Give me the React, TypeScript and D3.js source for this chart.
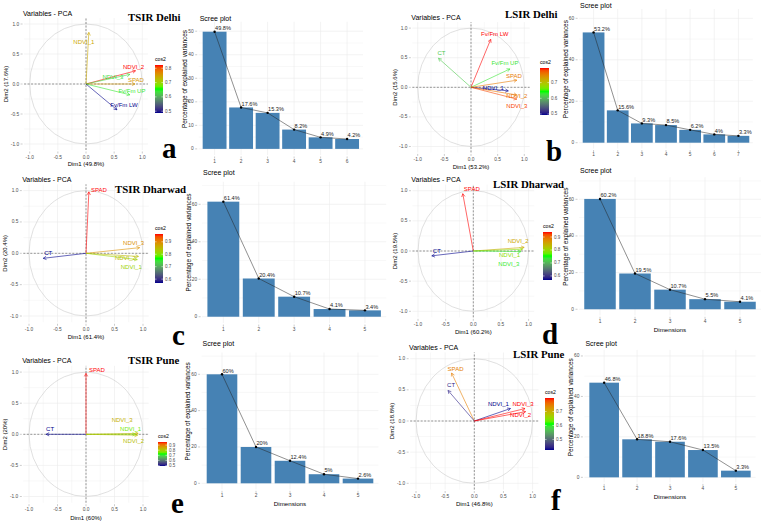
import React, { useRef, useEffect } from "react";
import * as d3 from "d3";

// explained variance (%) by dimension
const tsirDelhiEig = [49.8, 17.6, 15.3, 8.2, 4.9, 4.2];
const lsirDelhiEig = [53.2, 15.6, 9.3, 8.5, 6.2, 4, 3.3];
const tsirDharwadEig = [61.4, 20.4, 10.7, 4.1, 3.4];
const lsirDharwadEig = [60.2, 19.5, 10.7, 5.5, 4.1];
const tsirPuneEig = [60, 20, 12.4, 5, 2.6];
const lsirPuneEig = [46.8, 18.8, 17.6, 13.5, 3.3];

// variable coordinates on Dim1 / Dim2
const tsirDelhiVars = ["NDVI_1", "NDVI_2", "NDVI_3", "SPAD", "Fv/Fm UP", "Fv/Fm LW"];
const tsirDelhiDim1 = [0.05, 0.88, 0.78, 0.87, 0.78, 0.55];
const tsirDelhiDim2 = [0.86, 0.22, 0.16, 0.0, -0.18, -0.43];

const lsirDelhiVars = ["Fv/Fm LW", "CT", "Fv/Fm UP", "SPAD", "NDVI_1", "NDVI_2", "NDVI_3"];
const lsirDelhiDim1 = [0.37, -0.61, 0.73, 0.86, 0.7, 0.86, 0.86];
const lsirDelhiDim2 = [0.81, 0.49, 0.31, 0.12, -0.06, -0.13, -0.2];

const tsirDharwadVars = ["SPAD", "CT", "NDVI_3", "NDVI_2", "NDVI_1"];
const tsirDharwadDim1 = [0.05, -0.75, 0.94, 0.92, 0.9];
const tsirDharwadDim2 = [0.98, -0.08, 0.09, -0.05, -0.1];

const lsirDharwadVars = ["SPAD", "CT", "NDVI_2", "NDVI_1", "NDVI_3"];
const lsirDharwadDim1 = [-0.19, -0.75, 0.92, 0.89, 0.86];
const lsirDharwadDim2 = [0.95, -0.08, 0.06, 0.03, -0.01];

const tsirPuneVars = ["SPAD", "CT", "NDVI_3", "NDVI_1", "NDVI_2"];
const tsirPuneDim1 = [0.0, -0.7, 0.915, 0.87, 0.905];
const tsirPuneDim2 = [0.98, 0.0, 0.015, 0.0, -0.015];

const lsirPuneVars = ["SPAD", "CT", "NDVI_1", "NDVI_3", "NDVI_2"];
const lsirPuneDim1 = [-0.39, -0.45, 0.62, 0.87, 0.88];
const lsirPuneDim2 = [0.77, 0.49, 0.2, 0.2, 0.15];

const FONT = "'Liberation Sans', Arial, Helvetica, sans-serif";
const SERIF = "'Liberation Serif', 'Times New Roman', serif";
const AXIS_TEXT = "#4d4d4d";
const GRID = "#ebebeb";

// label offsets (px) from arrow tip to label centre
const labelNudge: Record<string, [number, number]> = {
  "a:NDVI_1": [-5, 10],
  "a:NDVI_2": [-2, -4],
  "a:NDVI_3": [-17, 3],
  "a:SPAD": [1, -4],
  "a:Fv/Fm UP": [2, -4],
  "a:Fv/Fm LW": [7, -5],
  "b:Fv/Fm LW": [4, -5],
  "b:CT": [3, -5],
  "b:Fv/Fm UP": [-5, -6],
  "b:SPAD": [-3, -4],
  "b:NDVI_1": [-15, -3],
  "b:NDVI_2": [0, 1],
  "b:NDVI_3": [0, 7],
  "c:SPAD": [10, -2],
  "c:CT": [5, -5],
  "c:NDVI_3": [-6, -5],
  "c:NDVI_2": [-13, 2],
  "c:NDVI_1": [-6, 7],
  "d:SPAD": [9, -5],
  "d:CT": [5, -5],
  "d:NDVI_2": [-6, -6],
  "d:NDVI_1": [-13, 6],
  "d:NDVI_3": [-12, 12],
  "e:SPAD": [11, -3],
  "e:CT": [4, -5],
  "e:NDVI_3": [-16, -13],
  "e:NDVI_1": [-5, -5],
  "e:NDVI_2": [-4, 6],
  "f:SPAD": [4, -4],
  "f:CT": [3, -5],
  "f:NDVI_1": [-12, -5],
  "f:NDVI_3": [-2, -5],
  "f:NDVI_2": [-5, 3],
};

const panels = [
  {
    key: "a", site: "TSIR Delhi", vars: tsirDelhiVars, dim1: tsirDelhiDim1, dim2: tsirDelhiDim2, eig: tsirDelhiEig,
    pca: { cx: 86, cy: 84, rx: 56.3, ry: 60 },
    legend: { x: 155, y: 65, w: 8, h: 48 },
    siteAt: [128, 21], letterAt: [162, 158],
    scree: { left: 198.7, right: 363, bottom: 155, top: 21.8, lo: -2.6, hi: 54, step: 10, titleY: 18, dimsTitle: false },
  },
  {
    key: "b", site: "LSIR Delhi", vars: lsirDelhiVars, dim1: lsirDelhiDim1, dim2: lsirDelhiDim2, eig: lsirDelhiEig,
    pca: { cx: 471, cy: 87.3, rx: 53.3, ry: 59.2 },
    legend: { x: 540, y: 68, w: 9, h: 47 },
    siteAt: [505, 18], letterAt: [546, 161],
    scree: { left: 579.1, right: 752.9, bottom: 148.5, top: 9, lo: -2.8, hi: 64.5, step: 20, titleY: 5, dimsTitle: false },
  },
  {
    key: "c", site: "TSIR Dharwad", vars: tsirDharwadVars, dim1: tsirDharwadDim1, dim2: tsirDharwadDim2, eig: tsirDharwadEig,
    pca: { cx: 86, cy: 253.3, rx: 57, ry: 62.7 },
    legend: { x: 155, y: 234, w: 8, h: 49 },
    siteAt: [115, 193], letterAt: [172, 345],
    scree: { left: 202.1, right: 386.2, bottom: 323.1, top: 181.8, lo: -3.4, hi: 72, step: 20, titleY: 172, dimsTitle: false },
  },
  {
    key: "d", site: "LSIR Dharwad", vars: lsirDharwadVars, dim1: lsirDharwadDim1, dim2: lsirDharwadDim2, eig: lsirDharwadEig,
    pca: { cx: 473.3, cy: 251, rx: 55.3, ry: 60.3 },
    legend: { x: 543, y: 232, w: 9, h: 48 },
    siteAt: [493, 188], letterAt: [542, 344],
    scree: { left: 579, right: 761, bottom: 315.3, top: 177.3, lo: -3.3, hi: 72, step: 20, titleY: 170, dimsTitle: true },
  },
  {
    key: "e", site: "TSIR Pune", vars: tsirPuneVars, dim1: tsirPuneDim1, dim2: tsirPuneDim2, eig: tsirPuneEig,
    pca: { cx: 86, cy: 434.3, rx: 57, ry: 62.2 },
    legend: { x: 158, y: 442, w: 9, h: 24 },
    siteAt: [128, 364], letterAt: [171, 513],
    scree: { left: 201.6, right: 378.4, bottom: 489.3, top: 352.5, lo: -3.3, hi: 72, step: 20, titleY: 343, dimsTitle: true },
  },
  {
    key: "f", site: "LSIR Pune", vars: lsirPuneVars, dim1: lsirPuneDim1, dim2: lsirPuneDim2, eig: lsirPuneEig,
    pca: { cx: 474.3, cy: 421, rx: 58.3, ry: 62.3 },
    legend: { x: 545, y: 398, w: 9, h: 52 },
    siteAt: [513, 358], letterAt: [551, 510],
    scree: { left: 584.4, right: 755.6, bottom: 482.4, top: 349.9, lo: -2.5, hi: 63, step: 20, titleY: 343, dimsTitle: true },
  },
];

type Panel = (typeof panels)[number];

function cos2Scale(lo: number, hi: number) {
  return d3
    .scaleLinear<string>()
    .domain([lo, (lo + hi) / 2, hi])
    .range(["#00008B", "#00FF00", "#FF0000"])
    .interpolate(d3.interpolateLab);
}

function drawPca(svg: any, p: Panel) {
  const { cx, cy, rx, ry } = p.pca;
  const x = d3.scaleLinear().domain([-1, 1]).range([cx - rx, cx + rx]);
  const y = d3.scaleLinear().domain([-1, 1]).range([cy + ry, cy - ry]);
  const lim = 1.1;
  const g = svg.append("g");

  // background grid
  const minor = [-0.75, -0.25, 0.25, 0.75];
  const major = [-1, -0.5, 0, 0.5, 1];
  [...minor, ...major].forEach((v) => {
    const w = minor.includes(v) ? 0.35 : 0.6;
    g.append("line").attr("x1", x(v)).attr("x2", x(v)).attr("y1", y(-lim)).attr("y2", y(lim))
      .attr("stroke", GRID).attr("stroke-width", w);
    g.append("line").attr("x1", x(-lim)).attr("x2", x(lim)).attr("y1", y(v)).attr("y2", y(v))
      .attr("stroke", GRID).attr("stroke-width", w);
  });

  // correlation circle
  g.append("ellipse").attr("cx", x(0)).attr("cy", y(0))
    .attr("rx", x(1) - x(0)).attr("ry", y(0) - y(1))
    .attr("fill", "none").attr("stroke", "#d2d2d2").attr("stroke-width", 0.7);

  g.append("line").attr("x1", x(-lim)).attr("x2", x(lim)).attr("y1", y(0)).attr("y2", y(0))
    .attr("stroke", "#333").attr("stroke-width", 0.5).attr("stroke-dasharray", "2,1.5");
  g.append("line").attr("x1", x(0)).attr("x2", x(0)).attr("y1", y(-lim)).attr("y2", y(lim))
    .attr("stroke", "#333").attr("stroke-width", 0.5).attr("stroke-dasharray", "2,1.5");

  // axes text
  major.forEach((v) => {
    const lab = v.toFixed(1);
    g.append("text").attr("x", x(-lim) - 5).attr("y", y(v)).attr("text-anchor", "end")
      .attr("dominant-baseline", "central").attr("font-size", 4.8).attr("fill", AXIS_TEXT)
      .attr("font-family", FONT).text(lab);
    g.append("line").attr("x1", x(-lim) - 3.5).attr("x2", x(-lim) - 1.5).attr("y1", y(v)).attr("y2", y(v))
      .attr("stroke", "#999").attr("stroke-width", 0.5);
    g.append("text").attr("x", x(v)).attr("y", y(-lim) + 7).attr("text-anchor", "middle")
      .attr("dominant-baseline", "central").attr("font-size", 4.8).attr("fill", AXIS_TEXT)
      .attr("font-family", FONT).text(lab);
    g.append("line").attr("x1", x(v)).attr("x2", x(v)).attr("y1", y(-lim) + 1.5).attr("y2", y(-lim) + 3.5)
      .attr("stroke", "#999").attr("stroke-width", 0.5);
  });

  g.append("text").attr("x", cx).attr("y", cy + 1.34 * ry).attr("text-anchor", "middle")
    .attr("dominant-baseline", "central").attr("font-size", 6).attr("font-family", FONT)
    .text(`Dim1 (${p.eig[0]}%)`);
  g.append("text").attr("transform", `translate(${cx - 1.42 * rx},${cy}) rotate(-90)`)
    .attr("text-anchor", "middle").attr("dominant-baseline", "central").attr("font-size", 6)
    .attr("font-family", FONT).text(`Dim2 (${p.eig[1]}%)`);
  g.append("text").attr("x", cx - 1.12 * rx).attr("y", cy - 1.18 * ry)
    .attr("dominant-baseline", "central").attr("font-size", 7).attr("font-family", FONT)
    .text("Variables - PCA");

  // variable arrows coloured by cos2
  const cos2 = p.dim1.map((d, i) => d * d + p.dim2[i] * p.dim2[i]);
  const lo = d3.min(cos2) as number;
  const hi = d3.max(cos2) as number;
  const color = cos2Scale(lo, hi);

  p.vars.forEach((name, i) => {
    const tx = x(p.dim1[i]);
    const ty = y(p.dim2[i]);
    const c = color(cos2[i]);
    const ang = Math.atan2(ty - y(0), tx - x(0));
    const head = 3.5;
    g.append("line").attr("x1", x(0)).attr("y1", y(0)).attr("x2", tx).attr("y2", ty)
      .attr("stroke", c).attr("stroke-width", 0.6);
    [-0.5, 0.5].forEach((da) => {
      g.append("line").attr("x1", tx).attr("y1", ty)
        .attr("x2", tx - head * Math.cos(ang + da)).attr("y2", ty - head * Math.sin(ang + da))
        .attr("stroke", c).attr("stroke-width", 0.6);
    });
    const [dx, dy] = labelNudge[`${p.key}:${name}`] || [0, -4];
    g.append("text").attr("x", tx + dx).attr("y", ty + dy).attr("text-anchor", "middle")
      .attr("dominant-baseline", "central").attr("font-size", 6).attr("font-family", FONT)
      .attr("fill", c).text(name);
  });

  // cos2 colour bar
  const L = p.legend;
  const gid = `grad-${p.key}`;
  const grad = svg.append("defs").append("linearGradient").attr("id", gid)
    .attr("x1", 0).attr("y1", 1).attr("x2", 0).attr("y2", 0);
  d3.range(0, 1.0001, 0.05).forEach((t) => {
    grad.append("stop").attr("offset", t).attr("stop-color", color(lo + t * (hi - lo)));
  });
  g.append("rect").attr("x", L.x).attr("y", L.y).attr("width", L.w).attr("height", L.h)
    .attr("fill", `url(#${gid})`);
  g.append("text").attr("x", L.x).attr("y", L.y - 4).attr("font-size", 5.2).attr("font-family", FONT)
    .text("cos2");
  const ly = d3.scaleLinear().domain([lo, hi]).range([L.y + L.h, L.y]);
  d3.range(Math.ceil(lo * 10) / 10, hi + 1e-9, 0.1).forEach((v) => {
    g.append("line").attr("x1", L.x).attr("x2", L.x + 1.6).attr("y1", ly(v)).attr("y2", ly(v))
      .attr("stroke", "#fff").attr("stroke-width", 0.5);
    g.append("line").attr("x1", L.x + L.w - 1.6).attr("x2", L.x + L.w).attr("y1", ly(v)).attr("y2", ly(v))
      .attr("stroke", "#fff").attr("stroke-width", 0.5);
    g.append("text").attr("x", L.x + L.w + 2).attr("y", ly(v)).attr("dominant-baseline", "central")
      .attr("font-size", 4.5).attr("fill", AXIS_TEXT).attr("font-family", FONT).text(v.toFixed(1));
  });

  // site heading and panel letter
  svg.append("text").attr("x", p.siteAt[0]).attr("y", p.siteAt[1]).attr("font-family", SERIF)
    .attr("font-weight", "bold").attr("font-size", 10.8).text(p.site);
  svg.append("text").attr("x", p.letterAt[0]).attr("y", p.letterAt[1]).attr("font-family", SERIF)
    .attr("font-weight", "bold").attr("font-size", 29).text(p.key);
}

function drawScree(svg: any, p: Panel) {
  const s = p.scree;
  const dims = p.eig.map((_, i) => String(i + 1));
  const x = d3.scaleBand().domain(dims).range([s.left, s.right]).paddingInner(0.1).paddingOuter(0.15);
  const y = d3.scaleLinear().domain([s.lo, s.hi]).range([s.bottom, s.top]);
  const g = svg.append("g");

  const majors = d3.range(0, s.hi + 1e-9, s.step);
  const minors = d3.range(s.step / 2, s.hi, s.step);
  minors.forEach((v) => {
    g.append("line").attr("x1", s.left).attr("x2", s.right).attr("y1", y(v)).attr("y2", y(v))
      .attr("stroke", GRID).attr("stroke-width", 0.35);
  });
  majors.forEach((v) => {
    g.append("line").attr("x1", s.left).attr("x2", s.right).attr("y1", y(v)).attr("y2", y(v))
      .attr("stroke", GRID).attr("stroke-width", 0.6);
    g.append("text").attr("x", s.left - 5).attr("y", y(v)).attr("text-anchor", "end")
      .attr("dominant-baseline", "central").attr("font-size", 4.8).attr("fill", AXIS_TEXT)
      .attr("font-family", FONT).text(v);
    g.append("line").attr("x1", s.left - 3.5).attr("x2", s.left - 1.5).attr("y1", y(v)).attr("y2", y(v))
      .attr("stroke", "#999").attr("stroke-width", 0.5);
  });
  const mid = (d: string) => (x(d) as number) + x.bandwidth() / 2;
  dims.forEach((d) => {
    g.append("line").attr("x1", mid(d)).attr("x2", mid(d)).attr("y1", s.top).attr("y2", s.bottom)
      .attr("stroke", GRID).attr("stroke-width", 0.6);
    g.append("line").attr("x1", mid(d)).attr("x2", mid(d)).attr("y1", s.bottom + 1.5).attr("y2", s.bottom + 3.5)
      .attr("stroke", "#999").attr("stroke-width", 0.5);
    g.append("text").attr("x", mid(d)).attr("y", s.bottom + 6).attr("text-anchor", "middle")
      .attr("dominant-baseline", "central").attr("font-size", 4.8).attr("fill", AXIS_TEXT)
      .attr("font-family", FONT).text(d);
  });

  g.selectAll("rect.bar").data(p.eig).enter().append("rect")
    .attr("x", (_: number, i: number) => x(dims[i]) as number)
    .attr("y", (v: number) => y(v))
    .attr("width", x.bandwidth())
    .attr("height", (v: number) => y(0) - y(v))
    .attr("fill", "#4682B4");

  const line = d3.line<number>().x((_, i) => mid(dims[i])).y((v) => y(v));
  g.append("path").attr("d", line(p.eig)).attr("fill", "none").attr("stroke", "#222")
    .attr("stroke-width", 0.5);
  p.eig.forEach((v, i) => {
    g.append("circle").attr("cx", mid(dims[i])).attr("cy", y(v)).attr("r", 1.2).attr("fill", "#000");
    g.append("text").attr("x", mid(dims[i]) + 0.5).attr("y", y(v) - 1.8).attr("font-size", 5.6)
      .attr("font-family", FONT).attr("fill", "#222").text(`${v}%`);
  });

  g.append("text").attr("x", s.left + 1).attr("y", s.titleY).attr("dominant-baseline", "central")
    .attr("font-size", 7).attr("font-family", FONT).text("Scree plot");
  g.append("text").attr("transform", `translate(${s.left - 14},${y((s.hi * 0.55))}) rotate(-90)`)
    .attr("text-anchor", "middle").attr("dominant-baseline", "central").attr("font-size", 6.4)
    .attr("font-family", FONT).text("Percentage of explained variances");
  if (s.dimsTitle) {
    g.append("text").attr("x", (s.left + s.right) / 2).attr("y", s.bottom + 14.5).attr("text-anchor", "middle")
      .attr("dominant-baseline", "central").attr("font-size", 6.2).attr("font-family", FONT)
      .text("Dimensions");
  }
}

export default function App() {
  const svgRef = useRef<SVGSVGElement>(null);

  useEffect(() => {
    const svg = d3.select(svgRef.current);
    svg.selectAll("*").remove();
    panels.forEach((p) => {
      drawScree(svg, p);
      drawPca(svg, p);
    });
  }, []);

  return (
    <svg
      ref={svgRef}
      width={762}
      height={525}
      style={{ position: "absolute", left: 0, top: 0, background: "#fff" }}
    />
  );
}
